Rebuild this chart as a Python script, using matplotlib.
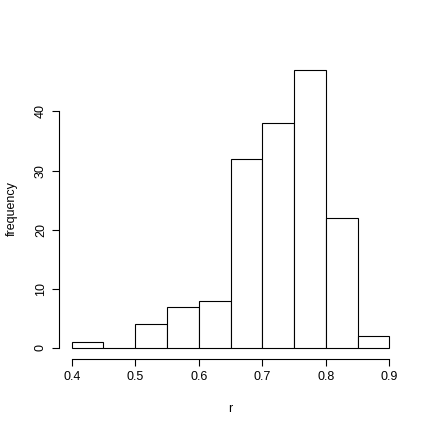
import numpy as np
import matplotlib.pyplot as plt

# histogram of r, bins of width 0.05 from 0.4 to 0.9
bin_edges = [0.40, 0.45, 0.50, 0.55, 0.60, 0.65, 0.70, 0.75, 0.80, 0.85, 0.90]
counts = [1, 0, 4, 7, 8, 32, 38, 47, 22, 2]

x_ticks = [0.4, 0.5, 0.6, 0.7, 0.8, 0.9]
y_ticks = [0, 10, 20, 30, 40]

plt.rcParams['font.family'] = ['Liberation Sans', 'DejaVu Sans']

fig = plt.figure(figsize=(6, 6), dpi=72)
ax = fig.add_axes([59 / 432, 73 / 432, 343 / 432, 300 / 432])

left = np.array(bin_edges[:-1])
widths = np.diff(bin_edges)
ax.bar(left, counts, width=widths, align='edge', color='white',
       edgecolor='black', linewidth=1.1)

ax.set_xlim(0.38, 0.92)
ax.set_ylim(-1.88, 48.88)

for s in ['top', 'right']:
    ax.spines[s].set_visible(False)
ax.spines['bottom'].set_bounds(0.4, 0.9)
ax.spines['left'].set_bounds(0, 40)
ax.spines['bottom'].set_linewidth(1.1)
ax.spines['left'].set_linewidth(1.1)

ax.set_xticks(x_ticks)
ax.set_xticklabels([str(v) for v in x_ticks])
ax.set_yticks(y_ticks)
ax.set_yticklabels([str(v) for v in y_ticks], rotation=90, va='center')
ax.tick_params(length=7, width=1.1, labelsize=12.5, pad=5)

ax.set_xlabel('r', fontsize=12.5, labelpad=20)
ax.set_ylabel('frequency', fontsize=12.5, labelpad=17)

fig.savefig('out.png', dpi=72, facecolor='white')
